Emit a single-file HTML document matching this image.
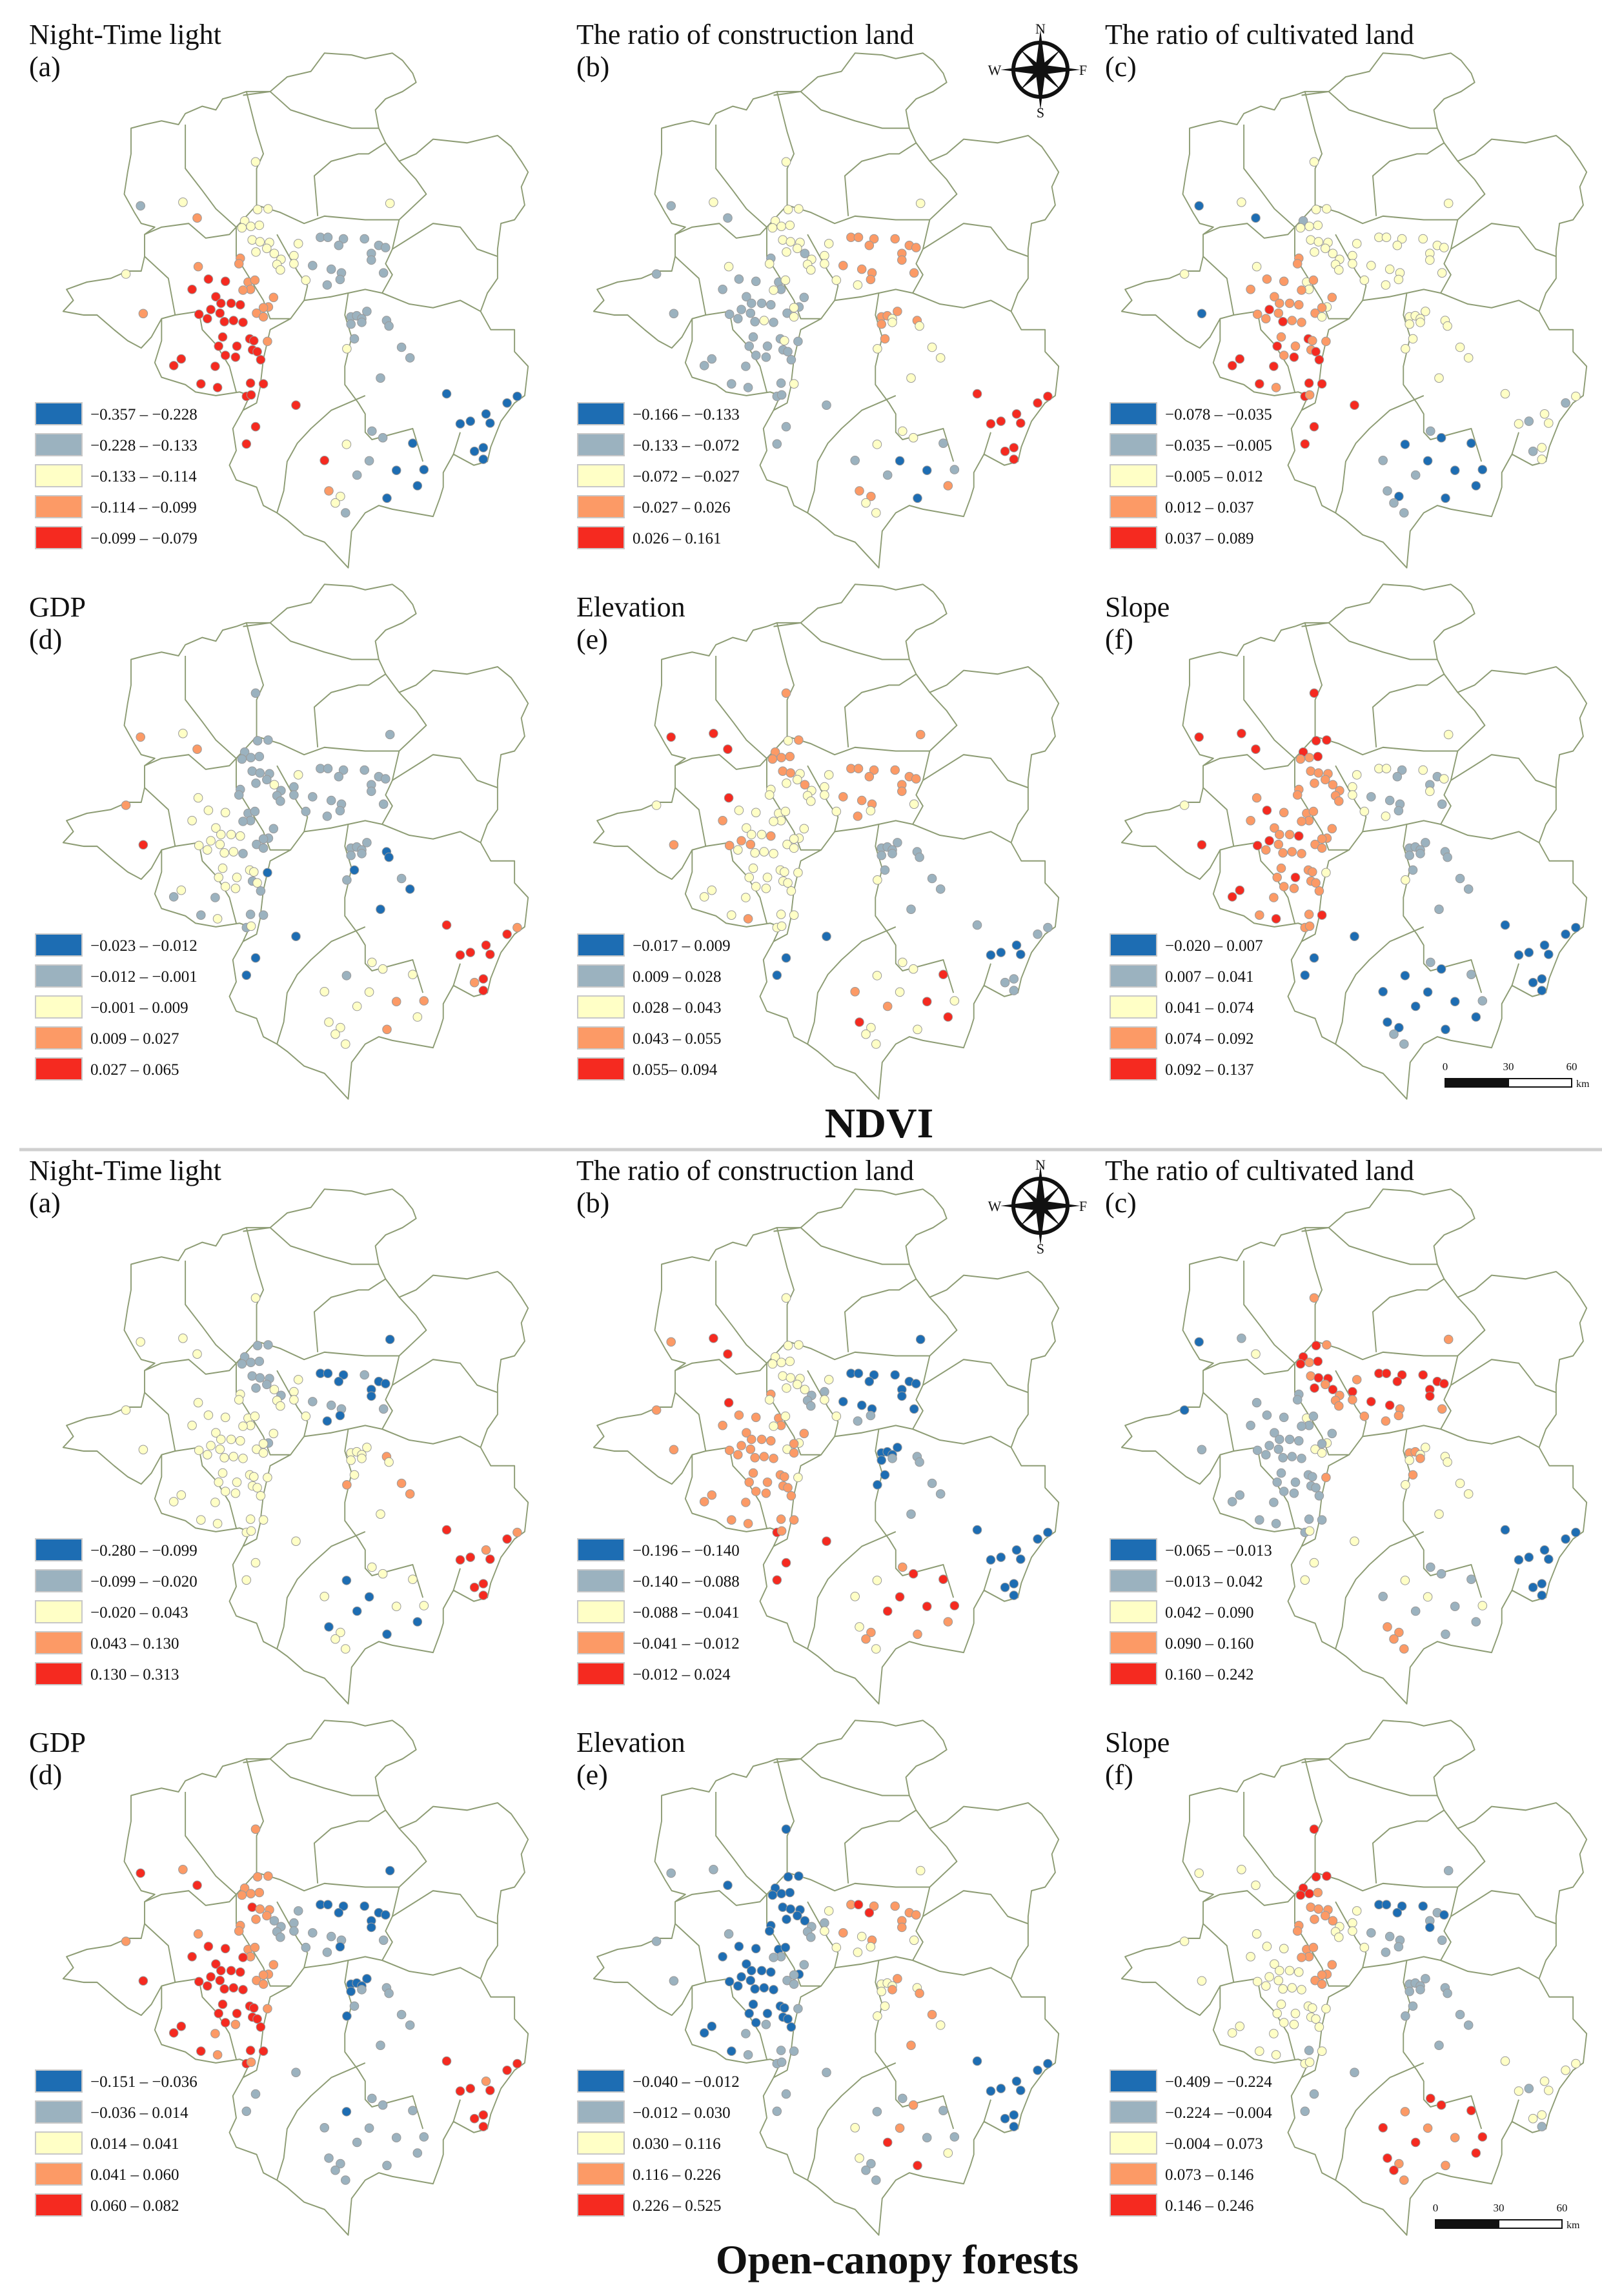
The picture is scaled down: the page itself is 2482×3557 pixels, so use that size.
<!DOCTYPE html>
<html><head><meta charset="utf-8"><title>NDVI and Open-canopy forests GWR coefficient maps</title>
<style>
html,body{margin:0;padding:0;background:#fff;}
svg{display:block;}
text{font-family:"Liberation Serif",serif;fill:#111;}
</style></head>
<body>
<svg id="fig" xmlns="http://www.w3.org/2000/svg" width="2482" height="3557" viewBox="0 0 2482 3557" font-family="Liberation Serif, serif">
<rect x="0" y="0" width="2482" height="3557" fill="#fff"/>
<defs>
<g id="region">
<path d="M720,250 L770,210 L840,195 L880,145 L960,150 L1000,160 L1080,145 L1110,165 L1140,200 L1150,225 L1110,250 L1060,270 L1030,300 L1040,350 L1060,390 L1100,440 L1150,420 L1200,380 L1300,390 L1390,370 L1430,400 L1460,440 L1480,470 L1460,510 L1470,560 L1440,600 L1400,610 L1390,680 L1390,760 L1360,800 L1340,850 L1370,900 L1440,900 L1440,960 L1480,1000 L1470,1080 L1440,1100 L1400,1150 L1370,1220 L1360,1260 L1320,1270 L1260,1240 L1230,1290 L1230,1330 L1220,1360 L1200,1410 L1140,1400 L1080,1390 L1040,1380 L1000,1400 L960,1450 L950,1550 L920,1520 L880,1480 L820,1460 L770,1420 L740,1400 L700,1380 L680,1330 L620,1310 L600,1270 L620,1230 L610,1170 L640,1120 L660,1080 L630,1070 L560,1080 L500,1070 L470,1050 L400,1030 L380,990 L400,930 L400,870 L370,920 L340,950 L300,930 L260,900 L210,860 L170,860 L110,850 L140,820 L120,790 L180,770 L250,760 L300,740 L340,740 L350,700 L350,640 L380,620 L340,610 L320,580 L290,530 L300,470 L310,420 L310,350 L350,340 L400,330 L450,340 L470,310 L520,290 L560,300 L580,270 L620,260 L650,250 Z"/>
<path d="M650,250 L680,360 L700,420 L680,460 L680,560"/>
<path d="M640,260 L720,250 L780,300 L880,330 L960,350 L1040,350"/>
<path d="M470,340 L470,460 L520,520 L560,570 L620,620 L680,560"/>
<path d="M620,620 L600,640 L530,650 L480,610 L400,620 L350,640"/>
<path d="M350,700 L420,760 L440,860 L400,870"/>
<path d="M440,860 L510,850 L520,900 L560,940 L600,1000 L620,1070"/>
<path d="M680,560 L750,580 L820,610 L880,590 L1000,600 L1100,600 L1180,530 L1150,490 L1100,440"/>
<path d="M860,590 L850,480 L900,440 L980,420 L1010,420 L1060,390"/>
<path d="M740,640 L800,740 L830,780 L820,820 L780,870 L720,870 L700,820 L660,760 L620,700 L620,620"/>
<path d="M780,870 L720,900 L700,980 L690,1060 L680,1100 L640,1120"/>
<path d="M820,820 L900,810 L950,800 L1000,790 L1050,800 L1080,750 L1060,720 L1080,680 L1100,600"/>
<path d="M950,800 L940,860 L960,920 L940,1000 L940,1050 L980,1100 L1000,1130 L1000,1180 L1020,1200 L1100,1180 L1140,1170 L1170,1260"/>
<path d="M1080,680 L1200,610 L1280,620 L1330,680 L1390,700"/>
<path d="M1050,800 L1130,830 L1200,840 L1280,820 L1340,850"/>
<path d="M1000,1080 L900,1120 L840,1170 L800,1210 L770,1260 L760,1340 L740,1400"/>
<path d="M1280,1180 L1260,1240"/>
</g>
<g id="compass">
<circle cx="0" cy="0" r="42" fill="none" stroke="#111" stroke-width="6"/>
<polygon points="0,-62 7,-7 0,0 -7,-7" fill="#111"/>
<polygon points="0,62 7,7 0,0 -7,7" fill="#111"/>
<polygon points="-62,0 -7,-7 0,0 -7,7" fill="#111"/>
<polygon points="62,0 7,-7 0,0 7,7" fill="#111"/>
<polygon points="-32,-32 0,-6 0,0 -6,0" fill="#111"/>
<polygon points="32,-32 6,0 0,0 0,-6" fill="#111"/>
<polygon points="32,32 0,6 0,0 6,0" fill="#111"/>
<polygon points="-32,32 -6,0 0,0 0,6" fill="#111"/>
</g>
</defs>
<g id="panels"></g>
<line x1="30" y1="1781" x2="2482" y2="1781" stroke="#cfcfcf" stroke-width="5"/>
<text x="1362" y="1762" font-size="66" font-weight="bold" text-anchor="middle">NDVI</text>
<text x="1390" y="3522" font-size="64" font-weight="bold" text-anchor="middle">Open-canopy forests</text>
<g>
<use href="#compass" x="1612" y="108"/>
<text x="1612" y="52" font-size="22" text-anchor="middle">N</text>
<text x="1612" y="182" font-size="22" text-anchor="middle">S</text>
<text x="1541" y="116" font-size="22" text-anchor="middle">W</text>
<text x="1678" y="116" font-size="22" text-anchor="middle">F</text>
</g>
<g>
<use href="#compass" x="1612" y="1868"/>
<text x="1612" y="1812" font-size="22" text-anchor="middle">N</text>
<text x="1612" y="1942" font-size="22" text-anchor="middle">S</text>
<text x="1541" y="1876" font-size="22" text-anchor="middle">W</text>
<text x="1678" y="1876" font-size="22" text-anchor="middle">F</text>
</g>
<g>
<rect x="2239" y="1671" width="98" height="13" fill="#111" stroke="#111" stroke-width="2"/>
<rect x="2337" y="1671" width="98" height="13" fill="#fff" stroke="#111" stroke-width="2"/>
<text x="2239" y="1658" font-size="17" text-anchor="middle">0</text>
<text x="2337" y="1658" font-size="17" text-anchor="middle">30</text>
<text x="2435" y="1658" font-size="17" text-anchor="middle">60</text>
<text x="2442" y="1684" font-size="16">km</text>
</g>
<g>
<rect x="2224" y="3439" width="98" height="13" fill="#111" stroke="#111" stroke-width="2"/>
<rect x="2322" y="3439" width="98" height="13" fill="#fff" stroke="#111" stroke-width="2"/>
<text x="2224" y="3426" font-size="17" text-anchor="middle">0</text>
<text x="2322" y="3426" font-size="17" text-anchor="middle">30</text>
<text x="2420" y="3426" font-size="17" text-anchor="middle">60</text>
<text x="2427" y="3452" font-size="16">km</text>
</g>
</svg>
<script>
// station locations (map units)
const stationX = [677,683,714,645,637,663,688,667,690,718,678,710,732,752,740,750,790,803,790,825,
868,890,936,922,998,1040,1060,1018,1018,845,900,930,926,888,1054,1073,
338,463,505,295,346,508,
538,490,588,560,545,575,605,632,510,535,572,585,612,640,580,568,622,660,672,668,682,588,618,692,458,436,558,516,565,662,700,650,664,
632,628,655,675,662,640,730,715,700,680,700,712,
796,677,650,
958,975,990,1005,958,990,1063,1070,968,946,1107,1132,1045,
1240,1418,1448,1280,1310,1356,1368,1322,1348,1348,
1020,1052,1140,945,880,1012,976,1092,1173,1154,1064,893,927,912,942];
const stationY = [442,572,570,603,622,618,615,655,660,662,688,678,692,708,722,737,698,665,720,765,
648,648,652,670,652,670,676,692,710,725,735,745,763,778,745,555,
562,552,595,748,856,728,
762,790,768,810,845,828,828,832,858,870,855,878,875,880,920,945,945,925,930,955,960,970,975,982,980,998,1000,1048,1058,1046,1048,1082,1078,
705,720,770,765,790,792,812,838,840,855,865,932,
1106,1165,1212,
865,862,870,850,885,880,875,890,925,952,948,977,1032,
1075,1100,1082,1157,1150,1130,1155,1232,1222,1254,
1177,1195,1210,1213,1257,1258,1297,1284,1282,1326,1360,1340,1355,1373,1400];
const clusterSizes = [20,16,6,33,12,3,13,10,15];

const panelTitles = ["Night-Time  light","The ratio of construction land","The ratio of cultivated land","GDP","Elevation","Slope"];
const panelLetters = ["(a)","(b)","(c)","(d)","(e)","(f)"];

const legendNdviA = ["\u22120.357 \u2013 \u22120.228","\u22120.228 \u2013 \u22120.133","\u22120.133 \u2013 \u22120.114","\u22120.114 \u2013 \u22120.099","\u22120.099 \u2013 \u22120.079"];
const legendNdviB = ["\u22120.166 \u2013 \u22120.133","\u22120.133 \u2013 \u22120.072","\u22120.072 \u2013 \u22120.027","\u22120.027 \u2013 0.026","0.026 \u2013 0.161"];
const legendNdviC = ["\u22120.078 \u2013 \u22120.035","\u22120.035 \u2013 \u22120.005","\u22120.005 \u2013 0.012","0.012 \u2013 0.037","0.037 \u2013 0.089"];
const legendNdviD = ["\u22120.023 \u2013 \u22120.012","\u22120.012 \u2013 \u22120.001","\u22120.001 \u2013 0.009","0.009 \u2013 0.027","0.027 \u2013 0.065"];
const legendNdviE = ["\u22120.017 \u2013 0.009","0.009 \u2013 0.028","0.028 \u2013 0.043","0.043 \u2013 0.055","0.055\u2013 0.094"];
const legendNdviF = ["\u22120.020 \u2013 0.007","0.007 \u2013 0.041","0.041 \u2013 0.074","0.074 \u2013 0.092","0.092 \u2013 0.137"];
const legendOcfA = ["\u22120.280 \u2013 \u22120.099","\u22120.099 \u2013 \u22120.020","\u22120.020 \u2013 0.043","0.043 \u2013 0.130","0.130 \u2013 0.313"];
const legendOcfB = ["\u22120.196 \u2013 \u22120.140","\u22120.140 \u2013 \u22120.088","\u22120.088 \u2013 \u22120.041","\u22120.041 \u2013 \u22120.012","\u22120.012 \u2013 0.024"];
const legendOcfC = ["\u22120.065 \u2013 \u22120.013","\u22120.013 \u2013 0.042","0.042 \u2013 0.090","0.090 \u2013 0.160","0.160 \u2013 0.242"];
const legendOcfD = ["\u22120.151 \u2013 \u22120.036","\u22120.036 \u2013 0.014","0.014 \u2013 0.041","0.041 \u2013 0.060","0.060 \u2013 0.082"];
const legendOcfE = ["\u22120.040 \u2013 \u22120.012","\u22120.012 \u2013 0.030","0.030 \u2013 0.116","0.116 \u2013 0.226","0.226 \u2013 0.525"];
const legendOcfF = ["\u22120.409 \u2013 \u22120.224","\u22120.224 \u2013 \u22120.004","\u22120.004 \u2013 0.073","0.073 \u2013 0.146","0.146 \u2013 0.246"];

// class (0..4) per station, grouped by cluster
const classNdviA = ["22222222222222222222","1111111111111112","123233","444444444444444444444444444444444","333333333333","444","1111111112111","0000000000","110241100003221"];
const classNdviB = ["22222222222212222222","3333333333333232","121112","111111111111211111211111111111211","121212112121","111","3323323232222","4444444444","221210101303322"];
const classNdviC = ["22212222222222222222","2222222222222222","020202","333343333334333434334344444434443","332323323323","444","2222222222222","2122122122","100010100001011"];
const classNdviD = ["11111111111121111211","1111111111111111","323342","222222222222212222212221211121112","111111111110","000","1111110001100","4434444344","222122233232222"];
const classNdviE = ["32333333322232222222","3333333333332323","444234","232232233232222222222222222232222","222222222222","000","1111111112111","1110000111","224232342424222"];
const classNdviF = ["44443343333333332222","2211212121111212","444243","433343344333333343333333443343433","333333333332","000","1111111112111","0000000000","101000001000011"];
const classOcfA = ["21111111111121222222","0000100001110010","222222","222222222222222222222222222222222","222222212222","222","2222223223332","4434434444","222020022000222"];
const classOcfB = ["22222222222221111222","0000000000001100","344334","333333333333333333333333333333343","323232323232","444","0000011100111","0000000000","344224444332332"];
const classOcfC = ["34344343444343334333","4444444444433333","012011","111111111111111111111111111111112","112111121223","222","3322232232222","0000000000","111212112113333"];
const classOcfD = ["33333334333311111111","0000000001110110","434343","444444444444444444444434443434443","333334333333","111","0000011110111","4444434444","111011111111111"];
const classOcfE = ["00000000000001111222","3434333333232222","110111","000000000000000000000010001011111","000011101111","111","2223232322323","0000000000","131123411242111"];
const classOcfF = ["44444433333332222222","0000010101111111","222222","222222222222222222222222222221222","333333333332","111","1111111111111","2222122221","444343434434343"];

const classColors = ["#1d6db3","#9bb2bf","#ffffc6","#fc9a66","#f52a20"];

const panelLegends = [legendNdviA,legendNdviB,legendNdviC,legendNdviD,legendNdviE,legendNdviF,legendOcfA,legendOcfB,legendOcfC,legendOcfD,legendOcfE,legendOcfF];
const panelClasses = [classNdviA,classNdviB,classNdviC,classNdviD,classNdviE,classNdviF,classOcfA,classOcfB,classOcfC,classOcfD,classOcfE,classOcfF];

const NS = "http://www.w3.org/2000/svg";
const mapDy = [0,823,1760,2583], mapDx = [0,822,1640];
const legDx = [0,840,1665];
const titleDy = [0,887,1760,2646], titleDx = [0,848,1667];
const SX = 0.5258, SY = 0.5675;
function mx(v, c){ return 40 + mapDx[c] + v*SX; }
function my(v, r){ return mapDy[r] + v*SY; }
function mk(tag, attrs){ const e=document.createElementNS(NS,tag); for(const k in attrs) e.setAttribute(k, attrs[k]); return e; }

const root = document.getElementById('panels');
for (let p=0; p<12; p++){
  const r = Math.floor(p/3), c = p%3, t = p%6;
  const g = mk('g', {});
  
  
  root.appendChild(g);

  const outline = mk('use', {href:'#region', transform:'translate('+(40+mapDx[c])+','+mapDy[r]+') scale('+SX+','+SY+')', fill:'none', stroke:'#8d9c74', 'stroke-width':'3.6', 'stroke-linejoin':'round'});
  
  
  g.appendChild(outline);

  const title = mk('text', {x: 45+titleDx[c], y: 68+titleDy[r], 'font-size':'44', 'font-family':'Liberation Serif, serif'});
  title.textContent = panelTitles[t];
  
  
  g.appendChild(title);

  const letter = mk('text', {x: 45+titleDx[c], y: 118+titleDy[r], 'font-size':'44', 'font-family':'Liberation Serif, serif'});
  letter.textContent = panelLetters[t];
  
  
  g.appendChild(letter);

  const cls = panelClasses[p];
  let idx = 0;
  for (let k=0; k<clusterSizes.length; k++){
    const s = cls[k];
    for (let j=0; j<clusterSizes[k]; j++){
      const ch = s[j] !== undefined ? s[j] : s[s.length-1];
      const v = parseInt(ch,10);
      const dot = mk('circle', {cx: mx(stationX[idx], c).toFixed(1), cy: my(stationY[idx], r).toFixed(1), r:'6.8', fill: classColors[v], stroke:'#9a9a9a', 'stroke-width':'1'});
      
      
      g.appendChild(dot);
      idx++;
    }
  }

  const labels = panelLegends[p];
  for (let i=0; i<5; i++){
    const top = 624 + mapDy[r] + i*48;
    const box = mk('rect', {x: 55+legDx[c], y: top, width:'72', height:'34', fill: classColors[i], stroke:'#c8c8c8', 'stroke-width':'2'});
    
    
    g.appendChild(box);
    const lt = mk('text', {x: 140+legDx[c], y: top+26, 'font-size':'25', 'font-family':'Liberation Serif, serif'});
    lt.textContent = labels[i];
    
    
    g.appendChild(lt);
  }
}
</script>
</body></html>
